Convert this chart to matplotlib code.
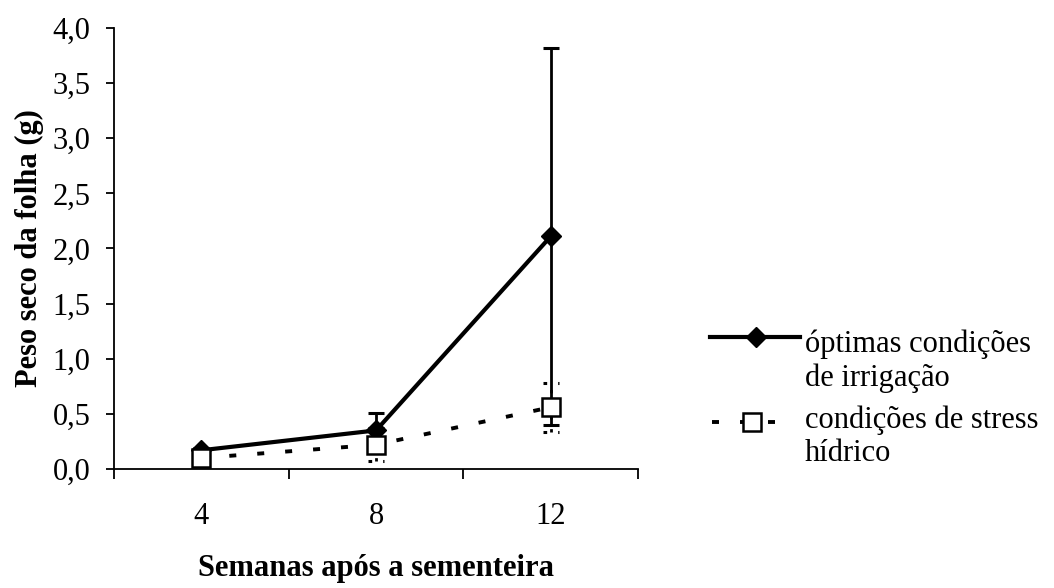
import numpy as np
import matplotlib
matplotlib.use("Agg")
import matplotlib.pyplot as plt
from matplotlib.ticker import FixedLocator, FuncFormatter, NullFormatter

plt.rcParams['font.family'] = ['Liberation Serif', 'DejaVu Serif']

# peso seco da folha (g), media e desvio
semanas = ['4', '8', '12']
optimas = [0.17, 0.35, 2.11]
optimas_err = [0.02, 0.16, 1.71]
stress = [0.10, 0.22, 0.56]
stress_err = [0.03, 0.15, 0.22]

lab_optimas = ['óptimas condições', 'de irrigação']
lab_stress = ['condições de stress', 'hídrico']

FS = 22
fig = plt.figure(figsize=(10.54, 5.88), dpi=100)
ax = fig.add_axes([0.1082, 0.2024, 0.4972, 0.75])

x = np.arange(len(semanas))
dash = (0, (1.8, 5.4))

# optimas condicoes: linha cheia com losangos
ax.errorbar(x, optimas, yerr=optimas_err, fmt='none', ecolor='black',
            elinewidth=2, capsize=5.8, capthick=2.2, zorder=2, clip_on=False)
ax.plot(x, optimas, color='black', lw=3, marker='D', ms=10.5,
        mfc='black', mec='black', zorder=2.5, clip_on=False)

# stress hidrico: tracejado com quadrados abertos
s = np.array(stress)
se = np.array(stress_err)
ax.vlines(x, s - se, s + se, colors='black', lw=2, linestyles=[(0, (1.2, 3.5))],
          zorder=3)
for yy in (s - se, s + se):
    ax.hlines(yy, x - 0.047, x + 0.047, colors='black', lw=2.2,
              linestyles=[(0, (1.2, 3.6))], zorder=3)
ax.plot(x, stress, color='black', lw=2.8, ls=dash, zorder=3, clip_on=False)
ax.plot(x, stress, ls='none', marker='s', ms=13, mfc='white', mec='black',
        mew=1.8, zorder=4, clip_on=False)

ax.set_xlim(-0.5, 2.5)
ax.set_ylim(0, 4.0)
ax.spines['top'].set_visible(False)
ax.spines['right'].set_visible(False)
for sp in ('left', 'bottom'):
    ax.spines[sp].set_linewidth(1.3)

ax.yaxis.set_major_locator(FixedLocator(np.arange(0, 4.01, 0.5)))
ax.yaxis.set_major_formatter(FuncFormatter(lambda v, _: f'{v:.1f}'.replace('.', ',')))
ax.tick_params(axis='y', direction='out', length=6, width=1.3, pad=11, labelsize=FS)

ax.xaxis.set_major_locator(FixedLocator([-0.5, 0.5, 1.5, 2.5]))
ax.xaxis.set_major_formatter(NullFormatter())
ax.xaxis.set_minor_locator(FixedLocator(x))
ax.set_xticklabels(semanas, minor=True)
ax.tick_params(axis='x', which='major', direction='out', length=7, width=1.3)
ax.tick_params(axis='x', which='minor', length=0, pad=24, labelsize=FS)

ax.set_xlabel('Semanas após a sementeira', fontsize=FS, fontweight='bold', labelpad=16)
ax.set_ylabel('Peso seco da folha (g)', fontsize=FS, fontweight='bold', labelpad=6)

# legenda desenhada em coordenadas de pixel
lg = fig.add_axes([0, 0, 1, 1])
lg.set_xlim(0, 1054)
lg.set_ylim(588, 0)
lg.axis('off')
lg.patch.set_visible(False)

lg.plot([710, 800], [337, 337], color='black', lw=3)
lg.plot([756], [337], marker='D', ms=10.5, color='black')
lg.plot([712, 796], [422, 422], color='black', lw=2.8, ls=(0, (1.8, 5.4)))
lg.plot([752], [422], marker='s', ms=13, mfc='white', mec='black', mew=1.8)

for txt, yb in zip(lab_optimas + lab_stress, [352, 386, 428, 461]):
    lg.text(805, yb, txt, fontsize=FS, va='baseline', ha='left')

fig.savefig('out.png', dpi=100)
